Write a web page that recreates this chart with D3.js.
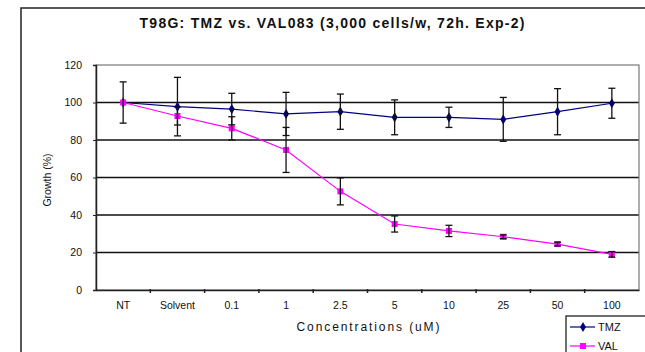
<!DOCTYPE html>
<html>
<head>
<meta charset="utf-8">
<script src="https://cdn.jsdelivr.net/npm/d3@7"></script>
<style>
  body { margin: 0; background: #fff; }
  svg { display: block; font-family: 'Liberation Sans', Arial, sans-serif; }
</style>
</head>
<body>
<svg id="chart" width="645" height="352"></svg>
<script>
const categories = ['NT', 'Solvent', '0.1', '1', '2.5', '5', '10', '25', '50', '100'];
const tmzValues = [100, 97.8, 96.5, 93.9, 95.1, 92.1, 92.1, 91, 95.1, 99.6];
const tmzErrors = [11, 15.6, 8.4, 11.5, 9.4, 9.3, 5.4, 11.7, 12.3, 8];
const valValues = [100, 92.8, 86.2, 74.7, 52.6, 35.2, 31.5, 28.4, 24.5, 19];
const valErrors = [0, 4.8, 6.2, 12, 7.2, 4.3, 3, 1, 1, 1.5];
const yTicks = [0, 20, 40, 60, 80, 100, 120];

const series = [
  { name: 'TMZ', values: tmzValues, errors: tmzErrors, color: '#000080', marker: d3.symbolDiamond, size: 30 },
  { name: 'VAL', values: valValues, errors: valErrors, color: '#ff00ff', marker: d3.symbolSquare, size: 36 }
];

let svg = d3.select('#chart');
const margin = { left: 96, right: 639, top: 65, bottom: 290 };
const font = "'Liberation Sans', Arial, sans-serif";

// outer chart frame (runs off the picture on the right and bottom)
svg.append('rect')
  .attr('x', 21).attr('y', 8)
  .attr('width', 700).attr('height', 400)
  .attr('fill', 'none')
  .attr('stroke', '#222')
  .attr('stroke-width', 1.5);

let x = d3.scaleBand().domain(categories).range([margin.left, margin.right]);
let y = d3.scaleLinear().domain([0, 120]).range([margin.bottom, margin.top]);

// gridlines
svg.append('g')
  .selectAll('line')
  .data(yTicks.filter((t) => t > 0 && t < 120))
  .enter()
  .append('line')
  .attr('x1', margin.left).attr('x2', margin.right)
  .attr('y1', (d) => y(d)).attr('y2', (d) => y(d))
  .attr('stroke', '#111')
  .attr('stroke-width', 1.3);

// plot border
svg.append('rect')
  .attr('x', margin.left).attr('y', margin.top)
  .attr('width', margin.right - margin.left)
  .attr('height', margin.bottom - margin.top)
  .attr('fill', 'none')
  .attr('stroke', '#777')
  .attr('stroke-width', 1.2);

// y axis
let yAxis = svg.append('g')
  .attr('transform', 'translate(' + margin.left + ',0)')
  .call(d3.axisLeft(y).tickValues(yTicks).tickSize(3).tickPadding(11));
yAxis.select('.domain').attr('stroke', '#222').attr('stroke-width', 1.5);
yAxis.selectAll('.tick line').attr('stroke', '#222');
yAxis.selectAll('text').attr('font-size', 10.5).attr('fill', '#111')
  .attr('font-family', font);

// x axis with ticks between categories
let xAxis = svg.append('g')
  .attr('transform', 'translate(0,' + margin.bottom + ')')
  .call(d3.axisBottom(x).tickSize(0).tickPadding(12));
xAxis.select('.domain').attr('stroke', '#222').attr('stroke-width', 1.5);
xAxis.selectAll('text').attr('font-size', 10.5).attr('fill', '#111')
  .attr('font-family', font);
xAxis.selectAll('.sep')
  .data(categories.slice(1))
  .enter()
  .append('line')
  .attr('class', 'sep')
  .attr('x1', (d) => x(d)).attr('x2', (d) => x(d))
  .attr('y1', -1).attr('y2', 3)
  .attr('stroke', '#222')
  .attr('stroke-width', 1.5);

// lines, markers, error bars
let line = d3.line()
  .x((d, i) => x(categories[i]) + x.bandwidth() / 2)
  .y((d) => y(d));

series.forEach((s) => {
  svg.append('path')
    .attr('d', line(s.values))
    .attr('fill', 'none')
    .attr('stroke', s.color)
    .attr('stroke-width', 1.2);
});

series.forEach((s) => {
  svg.append('g')
    .selectAll('path')
    .data(s.values)
    .enter()
    .append('path')
    .attr('d', d3.symbol().type(s.marker).size(s.size))
    .attr('transform', (d, i) => 'translate(' + (x(categories[i]) + x.bandwidth() / 2) + ',' + y(d) + ')')
    .attr('fill', s.color);
});

series.forEach((s) => {
  let bars = svg.append('g')
    .selectAll('g')
    .data(s.values.map((v, i) => ({ v: v, e: s.errors[i], c: categories[i] })).filter((d) => d.e > 0))
    .enter()
    .append('g')
    .attr('stroke', '#111')
    .attr('stroke-width', 1.3);
  bars.append('line')
    .attr('x1', (d) => x(d.c) + x.bandwidth() / 2).attr('x2', (d) => x(d.c) + x.bandwidth() / 2)
    .attr('y1', (d) => y(d.v - d.e)).attr('y2', (d) => y(d.v + d.e));
  [1, -1].forEach((sign) => {
    bars.append('line')
      .attr('x1', (d) => x(d.c) + x.bandwidth() / 2 - 3.5).attr('x2', (d) => x(d.c) + x.bandwidth() / 2 + 3.5)
      .attr('y1', (d) => y(d.v + sign * d.e)).attr('y2', (d) => y(d.v + sign * d.e));
  });
});

// title
svg.append('text')
  .attr('x', 332).attr('y', 28)
  .attr('text-anchor', 'middle')
  .attr('font-size', 14)
  .attr('font-weight', 'bold')
  .attr('fill', '#111')
  .attr('textLength', 385)
  .attr('lengthAdjust', 'spacing')
  .text('T98G: TMZ vs. VAL083 (3,000 cells/w, 72h. Exp-2)');

// axis titles
svg.append('text')
  .attr('x', 368).attr('y', 331)
  .attr('text-anchor', 'middle')
  .attr('font-size', 12)
  .attr('fill', '#111')
  .attr('textLength', 143)
  .attr('lengthAdjust', 'spacing')
  .text('Concentrations (uM)');

svg.append('text')
  .attr('transform', 'translate(51,180) rotate(-90)')
  .attr('text-anchor', 'middle')
  .attr('font-size', 10.5)
  .attr('fill', '#111')
  .text('Growth (%)');

// legend
let legend = svg.append('g');
legend.append('rect')
  .attr('x', 566).attr('y', 316)
  .attr('width', 120).attr('height', 60)
  .attr('fill', '#fff')
  .attr('stroke', '#222')
  .attr('stroke-width', 1.3);

let legendItem = legend.selectAll('.item')
  .data(series)
  .enter()
  .append('g')
  .attr('class', 'item')
  .attr('transform', (d, i) => 'translate(570,' + (327 + i * 19) + ')');

legendItem.append('line')
  .attr('x1', 0).attr('x2', 25)
  .attr('stroke', (d) => d.color)
  .attr('stroke-width', 1.2);
legendItem.append('path')
  .attr('d', (d) => d3.symbol().type(d.marker).size(d.size)())
  .attr('transform', 'translate(13,0)')
  .attr('fill', (d) => d.color);
legendItem.append('text')
  .attr('x', 28).attr('y', 4)
  .attr('font-size', 11)
  .attr('fill', '#111')
  .text((d) => d.name);
</script>
</body>
</html>
